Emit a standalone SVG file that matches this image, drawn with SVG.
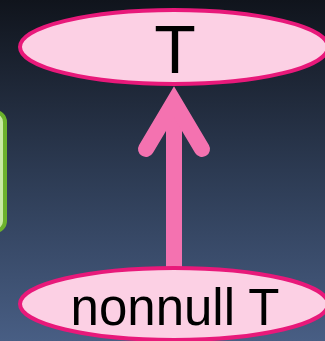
<svg xmlns="http://www.w3.org/2000/svg" width="325" height="341" viewBox="0 0 325 341">
  <defs>
    <linearGradient id="bg" x1="0" y1="0" x2="0" y2="1">
      <stop offset="0" stop-color="#10141c"/>
      <stop offset="0.5" stop-color="#2c3a52"/>
      <stop offset="1" stop-color="#485e84"/>
    </linearGradient>
    <style>
      .node ellipse { fill: #fcd0e4; stroke: #e8197a; stroke-width: 4; }
      .node text { font-family: "Liberation Sans", Arial, sans-serif; fill: #000; text-anchor: middle; }
      .edge { stroke: #f472b0; fill: none; stroke-width: 16; }
    </style>
  </defs>

  <rect width="325" height="341" fill="url(#bg)"/>

  <!-- box clipped at the left edge -->
  <g id="side-box">
    <rect x="-100" y="112" width="105" height="119" rx="10" fill="#c8eaa4" stroke="#6cb22c" stroke-width="4"/>
  </g>

  <g id="connectors">
    <line class="edge" x1="174" y1="268" x2="174" y2="110"/>
    <path class="edge" d="M146,149 L174,102 L202,149" stroke-linecap="round" stroke-linejoin="miter"/>
  </g>

  <g id="node-T" class="node">
    <ellipse cx="174" cy="47" rx="154" ry="37"/>
    <text x="175" y="73" font-size="68">T</text>
  </g>

  <g id="node-nonnull-T" class="node">
    <ellipse cx="174" cy="304" rx="154" ry="36"/>
    <text x="175" y="325" font-size="51">nonnull T</text>
  </g>
</svg>
